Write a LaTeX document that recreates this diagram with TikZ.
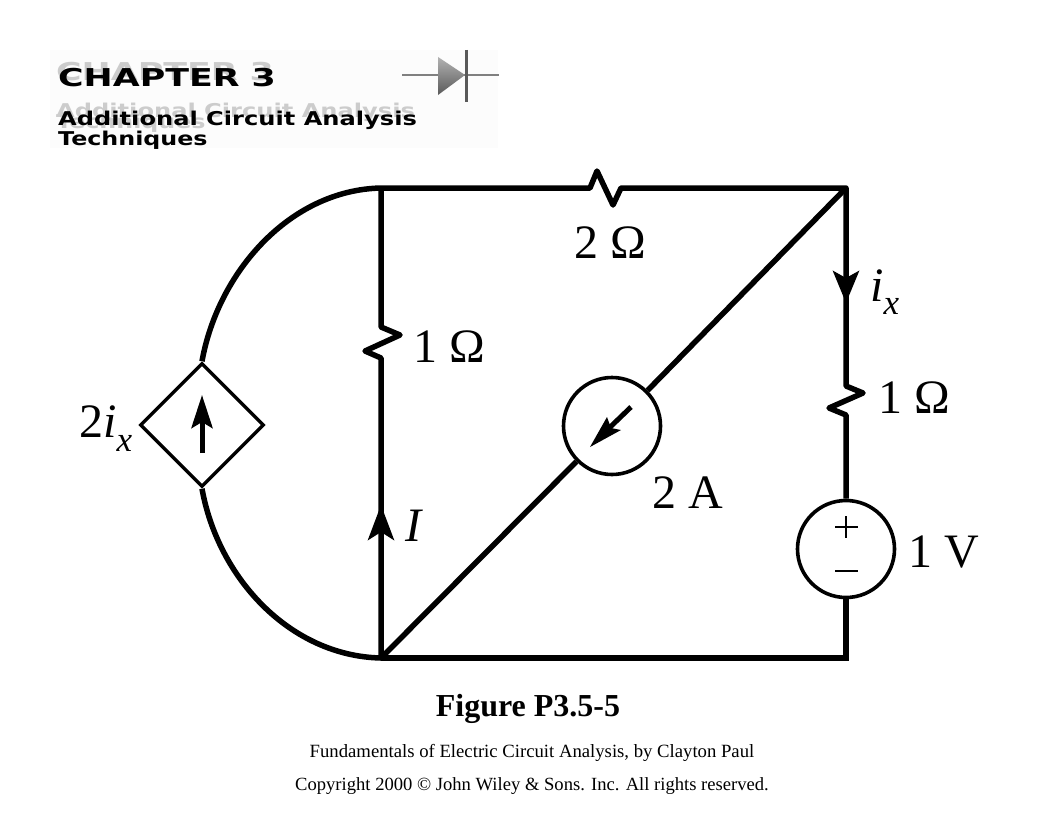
\documentclass[tikz,border=0pt]{standalone}
\usepackage{fontspec}
\setmainfont{Liberation Serif}
\newfontfamily\hdfont[Scale=1]{DejaVu Sans}
\usetikzlibrary{shapes.geometric,arrows.meta}
\tikzset{
 wire/.style={line width=5.5pt,line join=round,line cap=butt},
 val/.style={inner sep=0pt,font=\fontsize{48}{48}\selectfont,anchor=base west},
 src/.style={circle,draw,line width=3.6pt,minimum size=97pt,inner sep=0pt},
 captext/.style={inner sep=0pt,anchor=base},
 hd/.style={inner sep=0pt,anchor=base west,font=\hdfont\bfseries},
 shd/.style={hd,text=black!20},
 ahead/.style={-{Stealth[length=32pt,width=26pt,inset=7pt]},line width=5pt},
}
\newcommand{\subx}[1]{\raisebox{-#1pt}{\fontsize{35}{35}\selectfont\textit{x}}}
\begin{document}
\begin{tikzpicture}[x=1pt,y=-1pt]
\useasboundingbox (0,0) rectangle (1056,816);
\fill[white] (0,0) rectangle (1056,816);
% header
\fill[black!1] (50,50) rectangle (498,148);
\node[shd] at (56,80) {\scalebox{1.74}[1.23]{\fontsize{20}{20}\selectfont CHAPTER 3}};
\node[shd] at (56,117) {\scalebox{1.27}[1]{\fontsize{19}{19}\selectfont Additional Circuit Analysis}};
\node[shd] at (56,128) {\scalebox{1.25}[1]{\fontsize{19}{19}\selectfont Techniques}};
\node[hd] (h1) at (58,86) {\scalebox{1.74}[1.23]{\fontsize{20}{20}\selectfont CHAPTER 3}};
\node[hd] (h2) at (58,125) {\scalebox{1.27}[1]{\fontsize{19}{19}\selectfont Additional Circuit Analysis}};
\node[hd] (h3) at (58,145) {\scalebox{1.25}[1]{\fontsize{19}{19}\selectfont Techniques}};
% diode
\draw[black!50,line width=1.5pt] (402,75) -- (499,75);
\shade[top color=black!30,bottom color=black!65] (438,57) -- (465,75) -- (438,95) -- cycle;
\draw[black!65,line width=3pt] (466,50) -- (466,102);
% nodes
\coordinate (tl) at (381,188);
\coordinate (tr) at (846,188);
\coordinate (bl) at (381,658);
\coordinate (br) at (846,658);
\node[diamond,draw,line width=3.4pt,minimum width=124pt,minimum height=124pt,inner sep=0pt,aspect=1] (dep) at (202,425) {};
\node[src] (cs) at (612,426) {};
\node[src] (vs) at (846,549) {};
% wires
\draw[wire] (tl) -- (590,188) -- (597,171) -- (613,205) -- (621,188) -- (tr) -- (846,386) -- (863,393) -- (829,408) -- (846,415) -- (vs.north);
\draw[wire,line join=miter] (vs.south) -- (br) -- (bl);
\draw[wire] (tl) -- (381,327) -- (400,335) -- (365,351) -- (381,358) -- (bl);
\draw[wire] (bl) -- (cs.south west);
\draw[wire] (cs.north east) -- (tr);
\draw[wire] (dep.north) .. controls (218,272) and (290,190) .. (tl);
\draw[wire] (dep.south) .. controls (218,578) and (290,656) .. (bl);
% arrows
\draw[ahead] (846,262) -- (846,303);
\draw[ahead,-{Stealth[length=35pt,width=26pt,inset=8pt]}] (381,560) -- (381,505);
\draw[line width=5pt,-{Stealth[length=33pt,width=21pt,inset=6pt]}] (202,453) -- (202,395);
\draw[line width=5pt] (631,407) -- (604,433);
\fill (590,447) -- (607,417) -- (611,428) -- (621,430) -- cycle;
% source marks
\draw[line width=1.6pt] (846,516) -- (846,538) (835,527) -- (858,527);
\draw[line width=1.6pt] (835,571) -- (858,571);
% labels
\node[val] (l2) at (574,258) {2 Ω};
\node[val] (l1a) at (413,362) {1 Ω};
\node[val] (l1b) at (878,413) {1 Ω};
\node[val] (l2a) at (652,508) {2 A};
\node[val] (l1v) at (908,567) {1 V};
\node[val] (lix) at (870,301) {\textit{i}\subx{13}};
\node[val] (li) at (405,541) {\textit{I}};
\node[val] (l2ix) at (79,437) {2\textit{i}\subx{14}};
% captions
\node[captext,font=\bfseries\fontsize{32}{32}\selectfont] (c1) at (528,716) {Figure P3.5-5};
\node[captext,font=\fontsize{18.7}{20}\selectfont] (c2) at (532,757) {Fundamentals of Electric Circuit Analysis, by Clayton Paul};
\node[captext,font=\fontsize{18.6}{20}\selectfont] (c3) at (532,790) {Copyright 2000 © John Wiley \& Sons. Inc. All rights reserved.};
\end{tikzpicture}
\end{document}
